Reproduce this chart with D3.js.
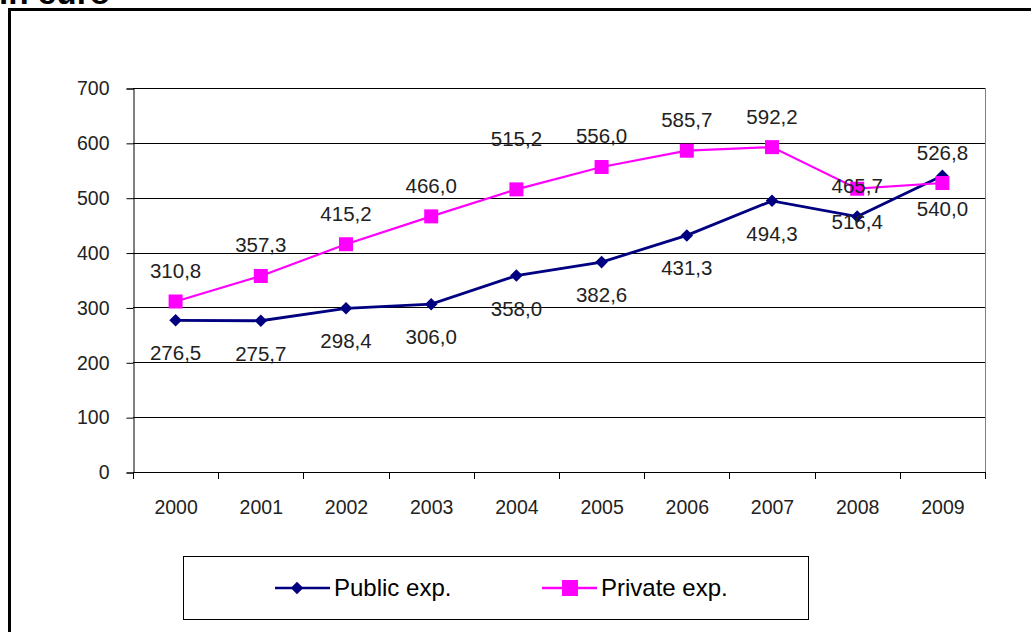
<!DOCTYPE html>
<html><head><meta charset="utf-8">
<script src="https://cdn.jsdelivr.net/npm/d3@7"></script>
<style>body{margin:0;background:#fff;}svg{display:block;font-family:"Liberation Sans",Arial,sans-serif;}</style>
</head><body>
<svg id="c" width="1031" height="632"></svg>
<script>
const years = ["2000","2001","2002","2003","2004","2005","2006","2007","2008","2009"];
const publicExp = [276.5, 275.7, 298.4, 306.0, 358.0, 382.6, 431.3, 494.3, 465.7, 540.0];
const privateExp = [310.8, 357.3, 415.2, 466.0, 515.2, 556.0, 585.7, 592.2, 516.4, 526.8];
const publicLabelSide = ["below","below","below","below","below","below","below","below","above","below"];
const privateLabelSide = ["above","above","above","above","high","above","above","above","below","above"];
const yTicks = [0,100,200,300,400,500,600,700];
const seriesNames = ["Public exp.","Private exp."];
const titleText = "in euro";

const svg = d3.select("#c");
const fmt = v => v.toFixed(1).replace(".", ",");
const FONT = "Liberation Sans, Arial, sans-serif";

svg.append("text").attr("x",-1).attr("y",3.5).attr("font-weight","bold").attr("font-size",31)
  .attr("textLength",111).attr("lengthAdjust","spacingAndGlyphs").text(titleText);
svg.append("path").attr("d","M9.5,640 V9.5 H1040").attr("fill","none").attr("stroke","#000").attr("stroke-width",3);

const pL=133, pR=985, pT=88, pB=472;
const x = d3.scaleBand().domain(years).range([pL,pR]);
const y = d3.scaleLinear().domain([0,700]).range([pB,pT]);
const cx = d => x(d)+x.bandwidth()/2;

svg.append("g").selectAll("line").data(yTicks.filter(t=>t>0)).join("line")
  .attr("x1",pL).attr("x2",pR).attr("y1",d=>Math.round(y(d))+0.5).attr("y2",d=>Math.round(y(d))+0.5)
  .attr("stroke","#000").attr("stroke-width",1);
svg.append("line").attr("x1",pR+0.5).attr("x2",pR+0.5).attr("y1",pT).attr("y2",pB).attr("stroke","#808080");

const ya = svg.append("g").attr("transform",`translate(${pL+0.5},0.5)`)
  .call(d3.axisLeft(y).tickValues(yTicks).tickSize(7).tickPadding(17));
ya.select(".domain").attr("stroke","#000");
ya.selectAll("text").attr("font-size",19.5).attr("fill","#222").attr("font-family",FONT);

const xa = svg.append("g").attr("transform",`translate(0.5,${pB+0.5})`)
  .call(d3.axisBottom(x).tickSize(0).tickPadding(28));
xa.select(".domain").attr("stroke","#000").attr("d",`M${pL},0H${pR}`);
xa.selectAll("text").attr("font-size",19.5).attr("fill","#222").attr("font-family",FONT);
svg.append("g").selectAll("line").data(d3.range(years.length+1)).join("line")
  .attr("x1",i=>Math.round(pL+i*x.bandwidth())+0.5).attr("x2",i=>Math.round(pL+i*x.bandwidth())+0.5)
  .attr("y1",pB).attr("y2",pB+7).attr("stroke","#000");

const pubColor="#000080", privColor="#FF00FF";
const line = d3.line().x((d,i)=>cx(years[i])).y(d=>y(d));

svg.append("path").datum(publicExp).attr("d",line).attr("fill","none").attr("stroke",pubColor).attr("stroke-width",2.8);
svg.append("path").datum(privateExp).attr("d",line).attr("fill","none").attr("stroke",privColor).attr("stroke-width",2.2);

const diamond = d3.symbol().type(d3.symbolDiamond2).size(100);
svg.append("g").selectAll("path").data(publicExp).join("path")
  .attr("d",diamond()).attr("transform",(d,i)=>`translate(${cx(years[i])},${y(d)})`).attr("fill",pubColor);
svg.append("g").selectAll("rect").data(privateExp).join("rect")
  .attr("x",(d,i)=>cx(years[i])-7).attr("y",d=>y(d)-7).attr("width",14).attr("height",14).attr("fill",privColor);

const offs = {above:-23.5, high:-43, below:40};
function labels(data, sides){
  svg.append("g").selectAll("text").data(data).join("text")
    .attr("x",(d,i)=>cx(years[i])).attr("text-anchor","middle").attr("font-size",20.5).attr("fill","#222")
    .attr("y",(d,i)=> y(d)+offs[sides[i]])
    .text(d=>fmt(d));
}
labels(publicExp, publicLabelSide);
labels(privateExp, privateLabelSide);

const lg = svg.append("g");
lg.append("rect").attr("x",183.5).attr("y",556.5).attr("width",625).attr("height",63).attr("fill","#fff").attr("stroke","#000");
const items = [{name:seriesNames[0],c:pubColor,x0:275,t:"d"},{name:seriesNames[1],c:privColor,x0:542,t:"s"}];
items.forEach(it=>{
  lg.append("line").attr("x1",it.x0).attr("x2",it.x0+55).attr("y1",588).attr("y2",588).attr("stroke",it.c).attr("stroke-width",2.5);
  if(it.t==="d") lg.append("path").attr("d",diamond()).attr("transform",`translate(${it.x0+22},588)`).attr("fill",it.c);
  else lg.append("rect").attr("x",it.x0+20).attr("y",580).attr("width",16).attr("height",16).attr("fill",it.c);
  lg.append("text").attr("x",it.x0+59).attr("y",596).attr("font-size",24).attr("fill","#000").text(it.name);
});
</script>
</body></html>
